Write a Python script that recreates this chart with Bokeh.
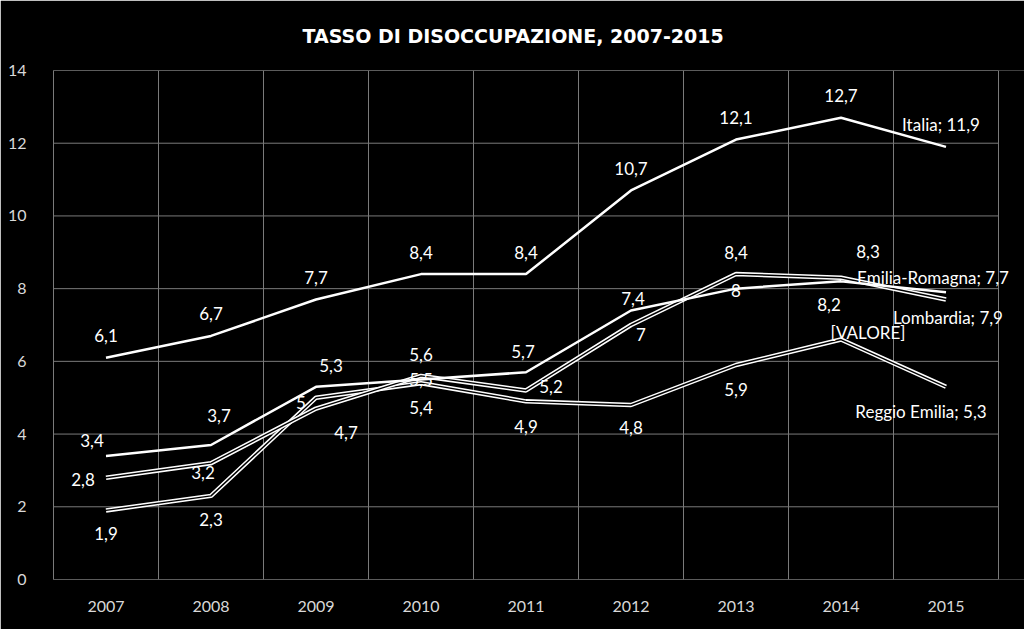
from bokeh.plotting import figure
from bokeh.models import ColumnDataSource, FixedTicker, Range1d, LabelSet
from bokeh.embed import file_html
from bokeh.resources import INLINE
from bokeh.core.properties import value

# ---- data ----
years = [2007, 2008, 2009, 2010, 2011, 2012, 2013, 2014, 2015]
italia = [6.1, 6.7, 7.7, 8.4, 8.4, 10.7, 12.1, 12.7, 11.9]
lombardia = [3.4, 3.7, 5.3, 5.5, 5.7, 7.4, 8.0, 8.2, 7.9]
emilia_romagna = [2.8, 3.2, 4.7, 5.6, 5.2, 7.0, 8.4, 8.3, 7.7]
reggio_emilia = [1.9, 2.3, 5.0, 5.4, 4.9, 4.8, 5.9, 6.6, 5.3]
y_ticks = [0, 2, 4, 6, 8, 10, 12, 14]
title_text = "TASSO DI DISOCCUPAZIONE, 2007-2015"

# ---- label placement (screen px offsets, y down) ----
off_italia = [(0, -22)] * 8 + [(-5, -22)]
off_lombardia = [(-14, -15), (8, -29), (15, -21), (0, 0), (-3, -21), (2, -12), (0, 2), (-12, 23), (2, 25)]
off_er = [(-23, 2), (-8, 9), (30, 24), (0, -21), (25, -4), (10, 9), (0, -22), (27, -26), (-13, -22)]
off_reggio = [(0, 23), (0, 24), (-15, 5), (0, 24), (0, 25), (0, 23), (0, 25), (27, -7), (-25, 25)]


def fmt(v):
    if abs(v - round(v)) < 1e-9:
        return str(int(round(v)))
    return ("%.1f" % v).replace(".", ",")


FONT = "Lato"
GRID = "#7a7a7a"

x_start = years[0] - 0.5
x_stop = years[-1] + 0.5
# frame runs to the canvas edge so that end labels are not clipped
x_end = x_stop + 26 * 9 / 945

p = figure(width=1024, height=629, output_backend="svg", toolbar_location=None,
           x_range=Range1d(x_start, x_end), y_range=Range1d(0, 14),
           min_border_left=53, min_border_right=0, min_border_top=70, min_border_bottom=50)
p.background_fill_color = "black"
p.border_fill_color = "black"
p.outline_line_color = None

p.title.text = title_text
p.title.align = "left"
p.title.offset = 249
p.title.vertical_align = "top"
p.title.text_color = "white"
p.title.text_font = "DejaVu Sans"
p.title.text_font_style = "bold"
p.title.text_font_size = "19px"
p.title.standoff = 44

# axes
p.xaxis.ticker = FixedTicker(ticks=years)
p.xaxis.major_label_overrides = {y: str(y) for y in years}
p.yaxis.ticker = FixedTicker(ticks=y_ticks)
for ax in (p.xaxis[0], p.yaxis[0]):
    ax.axis_line_color = GRID
    ax.axis_line_width = 1
    ax.major_tick_line_color = None
    ax.minor_tick_line_color = None
    ax.major_label_text_color = "#d9d9d9"
    ax.major_label_text_font = FONT
    ax.major_label_text_font_size = "16px"
p.xaxis.axis_line_color = None
p.yaxis.major_label_standoff = 21
p.xaxis.major_label_standoff = 15

p.xgrid.ticker = FixedTicker(ticks=[y + 0.5 for y in years])
p.xgrid.grid_line_color = GRID
p.xgrid.grid_line_width = 1
p.ygrid.grid_line_color = None
# horizontal grid lines limited to the plot area
p.segment(x0=[x_start] * len(y_ticks), x1=[x_stop] * len(y_ticks), y0=y_ticks, y1=y_ticks,
          line_color=GRID, line_width=1)

# lines
p.line(years, reggio_emilia, line_color="white", line_width=4.5)
p.line(years, reggio_emilia, line_color="black", line_width=1.4)
p.line(years, emilia_romagna, line_color="white", line_width=4.5)
p.line(years, emilia_romagna, line_color="black", line_width=1.4)
p.line(years, lombardia, line_color="white", line_width=2.5)
p.line(years, italia, line_color="white", line_width=2.5)


def labels(name, vals, offs, overrides=None):
    texts = [fmt(v) for v in vals]
    texts[-1] = "%s; %s" % (name, fmt(vals[-1]))
    if overrides:
        for i, t in overrides.items():
            texts[i] = t
    src = ColumnDataSource(dict(x=years, y=vals, text=texts,
                                dx=[o[0] for o in offs], dy=[-o[1] for o in offs]))
    ls = LabelSet(x="x", y="y", text="text", x_offset="dx", y_offset="dy", source=src,
                  text_color="white", text_font=value(FONT), text_font_size="17px",
                  text_align="center", text_baseline="middle")
    p.add_layout(ls)


labels("Italia", italia, off_italia)
labels("Lombardia", lombardia, off_lombardia)
labels("Emilia-Romagna", emilia_romagna, off_er)
labels("Reggio Emilia", reggio_emilia, off_reggio, overrides={7: "[VALORE]"})

open("out.html", "w").write(file_html(p, INLINE))
